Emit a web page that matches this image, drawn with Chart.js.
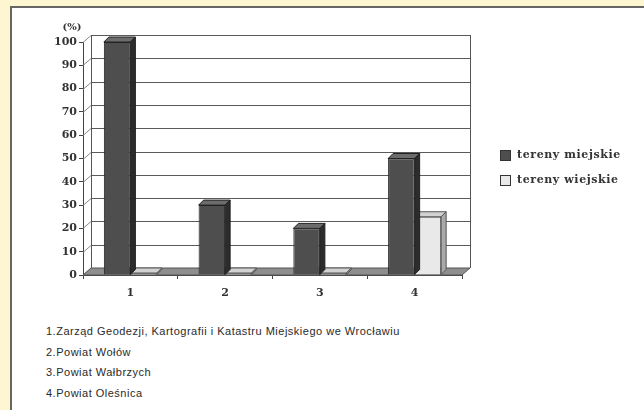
<!DOCTYPE html>
<html>
<head>
<meta charset="utf-8">
<script src="https://cdn.jsdelivr.net/npm/chart.js@4"></script>
<style>
  html, body { margin: 0; padding: 0; }
  body { width: 644px; height: 410px; background: #fdf6d0; position: relative; overflow: hidden; }
  .panel { position: absolute; left: 10px; top: 6px; width: 700px; height: 420px; background: #fff;
           border-left: 2px solid #666; border-top: 2px solid #666; }
  #chart { position: absolute; left: 0; top: 0; }
  .legend { position: absolute; left: 500px; top: 148px; font: bold 11px "DejaVu Serif", serif; color: #333;
            letter-spacing: 0.6px; }
  .legend div { height: 25px; display: flex; align-items: flex-start; }
  .legend span.box { width: 9px; height: 9px; margin-right: 6px; margin-top: 2px; border: 1px solid #333; }
  .notes { position: absolute; left: 46px; top: 325px; font: 11px "Liberation Sans", Arial, sans-serif; color: #2a2a2a;
           letter-spacing: 0.5px; }
  .notes div { height: 20.7px; }
</style>
</head>
<body>
<div class="panel"></div>
<canvas id="chart" width="644" height="300"></canvas>
<div class="legend" id="legend"></div>
<div class="notes" id="notes"></div>
<script>
// data
const categories = ['1', '2', '3', '4'];
const notes = [
  '1.Zarząd Geodezji, Kartografii i Katastru Miejskiego we Wrocławiu',
  '2.Powiat Wołów',
  '3.Powiat Wałbrzych',
  '4.Powiat Oleśnica'
];
const seriesLabels = ['tereny miejskie', 'tereny wiejskie'];
const urbanValues = [100, 30, 20, 50];
const ruralValues = [0, 0, 0, 25];
const yMax = 100;
const yStep = 10;

// 3D look
const DX = 8, DY = -7;     // depth of walls / floor
const BDX = 5, BDY = -5;   // depth of the bars
const faces = [
  { front: '#4e4e4e', top: '#6c6c6c', side: '#2c2c2c', line: '#222' },
  { front: '#e9e9e9', top: '#d2d2d2', side: '#a9a9a9', line: '#555' }
];

function poly(ctx, pts, fill, stroke) {
  ctx.beginPath();
  ctx.moveTo(pts[0][0], pts[0][1]);
  for (let i = 1; i < pts.length; i++) ctx.lineTo(pts[i][0], pts[i][1]);
  ctx.closePath();
  if (fill) { ctx.fillStyle = fill; ctx.fill(); }
  if (stroke) { ctx.strokeStyle = stroke; ctx.lineWidth = 1; ctx.stroke(); }
}

const wallPlugin = {
  id: 'wall',
  beforeDatasetsDraw(chart) {
    const ctx = chart.ctx;
    const { left, right, top, bottom } = chart.chartArea;
    const y = chart.scales.y;
    ctx.save();
    ctx.lineWidth = 1;
    // back wall grid + left wall slants
    y.ticks.forEach(t => {
      const yy = Math.round(y.getPixelForValue(t.value)) + 0.5;
      ctx.strokeStyle = '#5a5a5a';
      ctx.beginPath();
      ctx.moveTo(left + DX, yy + DY);
      ctx.lineTo(right + DX, yy + DY);
      ctx.stroke();
      ctx.strokeStyle = '#888';
      ctx.beginPath();
      ctx.moveTo(left, yy);
      ctx.lineTo(left + DX, yy + DY);
      ctx.stroke();
    });
    ctx.strokeStyle = '#555';
    ctx.beginPath();
    ctx.moveTo(left + DX + 0.5, top + DY);
    ctx.lineTo(left + DX + 0.5, bottom + DY);
    ctx.moveTo(right + DX + 0.5, top + DY);
    ctx.lineTo(right + DX + 0.5, bottom + DY);
    ctx.stroke();
    // floor
    poly(ctx, [[left, bottom], [right, bottom], [right + DX, bottom + DY], [left + DX, bottom + DY]], '#8e8e8e', '#555');
    ctx.restore();
  },
  afterDatasetDraw(chart, args) {
    const ctx = chart.ctx;
    const f = faces[args.index];
    ctx.save();
    args.meta.data.forEach(bar => {
      const p = bar.getProps(['x', 'y', 'base', 'width'], true);
      const l = p.x - p.width / 2, r = p.x + p.width / 2;
      const t = Math.min(p.y, p.base), b = Math.max(p.y, p.base);
      poly(ctx, [[l, t], [l + BDX, t + BDY], [r + BDX, t + BDY], [r, t]], f.top, f.line);
      poly(ctx, [[r, t], [r + BDX, t + BDY], [r + BDX, b + BDY], [r, b]], f.side, f.line);
    });
    ctx.restore();
  },
  afterDraw(chart) {
    const ctx = chart.ctx;
    ctx.save();
    ctx.font = 'bold 10px "DejaVu Serif", serif';
    ctx.fillStyle = '#333';
    ctx.textAlign = 'center';
    ctx.textBaseline = 'middle';
    ctx.fillText('(%)', 72, 27);
    ctx.restore();
  }
};

const tickFont = { family: '"DejaVu Serif", serif', size: 11, weight: 'bold' };

const chart = new Chart(document.getElementById('chart'), {
  type: 'bar',
  data: {
    labels: categories,
    datasets: [
      { label: seriesLabels[0], data: urbanValues, backgroundColor: faces[0].front,
        borderColor: faces[0].line, borderWidth: 1, minBarLength: 2 },
      { label: seriesLabels[1], data: ruralValues, backgroundColor: faces[1].front,
        borderColor: faces[1].line, borderWidth: 1, minBarLength: 2 }
    ]
  },
  options: {
    responsive: false,
    animation: false,
    devicePixelRatio: 1,
    layout: { padding: { top: 42, right: 182, bottom: 0, left: 0 } },
    categoryPercentage: 0.56,
    barPercentage: 1.0,
    plugins: { legend: { display: false }, tooltip: { enabled: false } },
    scales: {
      x: {
        grid: { offset: true, drawOnChartArea: false, drawTicks: true, tickLength: 4, color: '#444' },
        border: { display: true, color: '#444' },
        ticks: { font: tickFont, color: '#333', padding: 8 },
        afterFit: s => { s.height = 25; }
      },
      y: {
        min: 0, max: yMax,
        grid: { drawOnChartArea: false, drawTicks: true, tickLength: 4, color: '#444' },
        border: { display: true, color: '#444' },
        ticks: { stepSize: yStep, font: tickFont, color: '#333', padding: 2 },
        afterFit: s => { s.width = 83; }
      }
    }
  },
  plugins: [wallPlugin]
});

// legend built from the datasets
const legend = document.getElementById('legend');
chart.data.datasets.forEach(ds => {
  const row = document.createElement('div');
  const box = document.createElement('span');
  box.className = 'box';
  box.style.background = ds.backgroundColor;
  row.appendChild(box);
  row.appendChild(document.createTextNode(ds.label));
  legend.appendChild(row);
});

const notesEl = document.getElementById('notes');
notes.forEach(n => {
  const d = document.createElement('div');
  d.textContent = n;
  notesEl.appendChild(d);
});
</script>
</body>
</html>
